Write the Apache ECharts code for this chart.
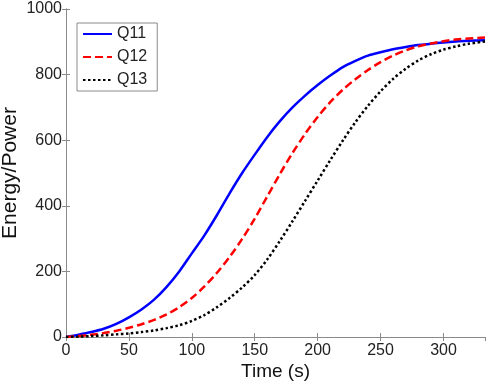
<!DOCTYPE html>
<html>
<head>
<meta charset="utf-8">
<script src="https://cdn.jsdelivr.net/npm/echarts@6/dist/echarts.min.js"></script>
<style>
  html, body { margin: 0; padding: 0; background: #fff; }
  #chart { width: 491px; height: 384px; }
</style>
</head>
<body>
<div id="chart"></div>
<script>
// time samples (s)
const time = [0, 10, 20, 30, 40, 50, 60, 70, 80, 90, 100, 110, 120, 130, 140, 150, 160, 170,
  180, 190, 200, 210, 220, 230, 240, 250, 260, 270, 280, 290, 300, 310, 320, 333];

// energy/power curves
const q11 = [0, 7, 15, 25, 40, 60, 84, 114, 153, 200, 255, 310, 372, 438, 500, 556, 610, 658,
  700, 736, 768, 797, 823, 842, 858, 868, 877, 884, 890, 894, 898, 901, 903, 905];
const q12 = [0, 3, 7, 12, 19, 28, 39, 52, 69, 91, 119, 154, 196, 244, 299, 361, 429, 497,
  561, 619, 671, 716, 754, 786, 814, 838, 858, 874, 886, 895, 902, 907, 910, 913];
const q13 = [0, 1, 3, 5, 8, 11, 15, 20, 27, 36, 49, 67, 91, 119, 151, 189, 237, 293,
  353, 415, 477, 539, 599, 655, 705, 749, 787, 818, 843, 862, 876, 886, 894, 901];

const xTicks = [0, 50, 100, 150, 200, 250, 300];
const yTicks = [0, 200, 400, 600, 800, 1000];

function pairs(ys) {
  return time.map(function (t, i) { return [t, ys[i]]; });
}

const axisGray = '#8a8a8a';
const font = 'Arial, "Liberation Sans", sans-serif';

let chart = echarts.init(document.getElementById('chart'));

const frameX = {
  type: 'value',
  min: xTicks[0],
  max: 333,
  interval: 50,
  axisLine: { show: true, lineStyle: { color: axisGray, width: 1 } },
  axisTick: { show: true, inside: true, length: 4, lineStyle: { color: axisGray } },
  splitLine: { show: false }
};
const frameY = {
  type: 'value',
  min: yTicks[0],
  max: yTicks[yTicks.length - 1],
  interval: 200,
  axisLine: { show: true, lineStyle: { color: axisGray, width: 1 } },
  axisTick: { show: true, inside: true, length: 4, lineStyle: { color: axisGray } },
  splitLine: { show: false }
};

const option = {
  animation: false,
  backgroundColor: '#fff',
  grid: { left: 66, right: 6, top: 9, bottom: 47, containLabel: false, outerBoundsMode: 'none' },
  legend: {
    orient: 'vertical',
    left: 77,
    top: 23,
    padding: [3, 10, 3, 5],
    itemWidth: 29,
    itemHeight: 16,
    itemGap: 7,
    backgroundColor: '#fff',
    borderColor: axisGray,
    borderWidth: 1,
    borderRadius: 0,
    itemStyle: { opacity: 0 },
    textStyle: { fontFamily: font, fontSize: 16, color: '#222' },
    data: ['Q11', 'Q12', 'Q13']
  },
  xAxis: [
    Object.assign({}, frameX, {
      position: 'bottom',
      name: 'Time (s)',
      nameLocation: 'middle',
      nameGap: 25,
      nameMoveOverlap: false,
      nameTextStyle: { fontFamily: font, fontSize: 19, color: '#111' },
      axisLabel: {
        fontFamily: font, fontSize: 16, color: '#222', margin: 6,
        showMaxLabel: false,
        formatter: function (v) { return String(v); }
      }
    }),
    Object.assign({}, frameX, { position: 'top', axisLabel: { show: false } })
  ],
  yAxis: [
    Object.assign({}, frameY, {
      position: 'left',
      name: 'Energy/Power',
      nameLocation: 'middle',
      nameGap: 45,
      nameMoveOverlap: false,
      nameTextStyle: { fontFamily: font, fontSize: 21, color: '#111' },
      axisLabel: {
        fontFamily: font, fontSize: 16, color: '#222', margin: 4,
        formatter: function (v) { return String(v); }
      }
    }),
    Object.assign({}, frameY, { position: 'right', axisLabel: { show: false } })
  ],
  series: [
    {
      name: 'Q11', type: 'line', data: pairs(q11), showSymbol: false, symbol: 'none',
      smooth: 0.3,
      lineStyle: { color: '#0000ff', width: 2.5, type: 'solid' },
      itemStyle: { color: '#0000ff' }
    },
    {
      name: 'Q12', type: 'line', data: pairs(q12), showSymbol: false, symbol: 'none',
      smooth: 0.3,
      lineStyle: { color: '#ff0000', width: 2.5, type: [8, 4] },
      itemStyle: { color: '#ff0000' }
    },
    {
      name: 'Q13', type: 'line', data: pairs(q13), showSymbol: false, symbol: 'none',
      smooth: 0.3,
      lineStyle: { color: '#000000', width: 2.5, type: [2.5, 2.5] },
      itemStyle: { color: '#000000' }
    }
  ]
};

chart.setOption(option);
</script>
</body>
</html>
